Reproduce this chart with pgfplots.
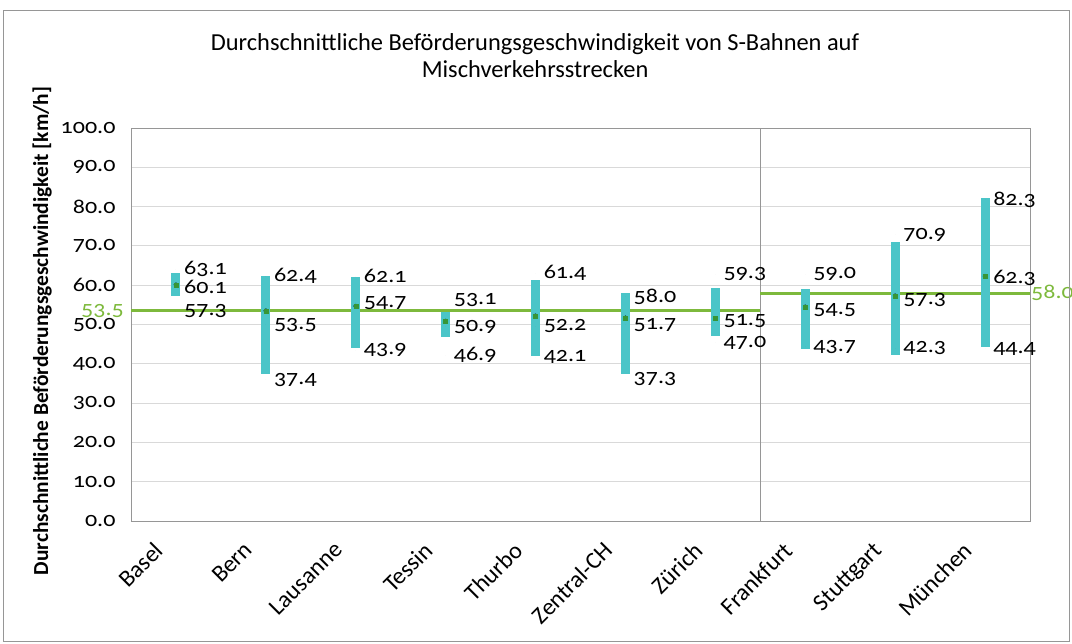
\documentclass[border=0pt]{standalone}
\usepackage{pgfplots}
\pgfplotsset{compat=1.18}
\usepackage{pgfplotstable}
\usepackage{fontspec}
\setmainfont{Carlito}
\newfontfamily\numfont[Numbers=OldStyle, FakeStretch=1.15]{Carlito}
\newcommand\numsize{\numfont\fontsize{21}{24}\selectfont}
\definecolor{barcyan}{RGB}{75,197,200}
\definecolor{avgline}{RGB}{125,185,60}
\definecolor{meanmk}{RGB}{55,150,55}
\definecolor{gridgray}{RGB}{217,217,217}
\definecolor{axgray}{RGB}{150,150,150}
\pgfplotstableread{
x lo mean hi ylo ymean yhi
0.5 57.3 60.1 63.1 53.4 59.5 64.1
1.5 37.4 53.5 62.4 35.9 49.9 62.3
2.5 43.9 54.7 62.1 43.5 55.5 62.3
3.5 46.9 50.9 53.1 42.2 49.4 56.2
4.5 42.1 52.2 61.4 41.7 49.6 63.1
5.5 37.3 51.7 58.0 36.1 49.9 57.0
6.5 47.0 51.5 59.3 45.3 50.9 62.8
7.5 43.7 54.5 59.0 44.3 53.7 62.8
8.5 42.3 57.3 70.9 44.0 56.2 72.8
9.5 44.4 62.3 82.3 43.8 61.8 81.7
}\data
\begin{document}
\begin{tikzpicture}
\begin{axis}[
  scale only axis, width=899bp, height=393bp,
  xmin=0, xmax=10, ymin=0, ymax=100,
  axis line style={draw=axgray, line width=0.8bp},
  ymajorgrids, grid style={draw=gridgray, line width=0.8bp},
  ytick={0,10,...,100},
  ytick style={draw=none},
  yticklabel style={font=\numsize, xshift=-12bp},
  /pgf/number format/.cd, fixed, fixed zerofill, precision=1, assume math mode=true,
  /pgfplots/.cd,
  xtick={0.5,1.5,...,9.5},
  xticklabels={Basel,Bern,Lausanne,Tessin,Thurbo,Zentral-CH,Zürich,Frankfurt,Stuttgart,München},
  xtick style={draw=none},
  xticklabel style={xshift=-23bp, yshift=-18bp, rotate=45, anchor=north east, inner sep=1bp, font=\fontsize{24}{26}\selectfont},
  extra x ticks={0,1,...,10},
  extra x tick labels={},
  extra x tick style={tick style={draw=axgray, line width=0.8bp}, major tick length=12bp, tick align=center, xmajorgrids=false},
  clip=false,
]
\draw[axgray, line width=0.8bp] (axis cs:7,0) -- (axis cs:7,100);
\addplot[avgline, line width=3bp, forget plot] coordinates {(0,53.5) (7,53.5)};
\addplot[avgline, line width=3bp, forget plot] coordinates {(7,58.0) (10,58.0)};
\addplot[only marks, mark=none, forget plot,
  error bars/.cd, y dir=both, y explicit, error mark=none,
  error bar style={line width=9bp, draw=barcyan}]
  table[x=x, y=mean, y error plus expr=\thisrow{hi}-\thisrow{mean}, y error minus expr=\thisrow{mean}-\thisrow{lo}] {\data};
\addplot[only marks, mark=square*, mark size=2bp, mark options={draw=meanmk, fill=meanmk}] table[x=x, y=mean] {\data};
\foreach \c/\m in {yhi/hi, ymean/mean, ylo/lo}{
\addplot[only marks, mark=*, mark size=0pt, mark options={draw=none, fill=none},
  nodes near coords, point meta=explicit symbolic,
  nodes near coords style={anchor=west, xshift=8bp, inner sep=0pt, font=\numsize, text=black}]
  table[x=x, y=\c, meta=\m] {\data};
}
\node[anchor=east, inner sep=0pt, xshift=-7bp, text=avgline, font=\numsize] at (axis cs:0,53.5) {53.5};
\node[anchor=west, inner sep=0pt, xshift=1bp, text=avgline, font=\numsize] at (axis cs:10,58.0) {58.0};
\end{axis}
\node[align=center, font=\fontsize{24.5}{27}\selectfont] at (404bp,465bp) {Durchschnittliche Beförderungsgeschwindigkeit von S-Bahnen auf\\Mischverkehrsstrecken};
\node[rotate=90, font=\bfseries\fontsize{21.5}{24}\selectfont] at (-89bp,190bp) {Durchschnittliche Beförderungsgeschwindigkeit [km/h]};
\draw[axgray, line width=0.8bp] (-128bp,-120bp) rectangle (938bp,511bp);
\pgfresetboundingbox
\useasboundingbox (-131bp,-123bp) rectangle (941bp,521bp);
\end{tikzpicture}
\end{document}
